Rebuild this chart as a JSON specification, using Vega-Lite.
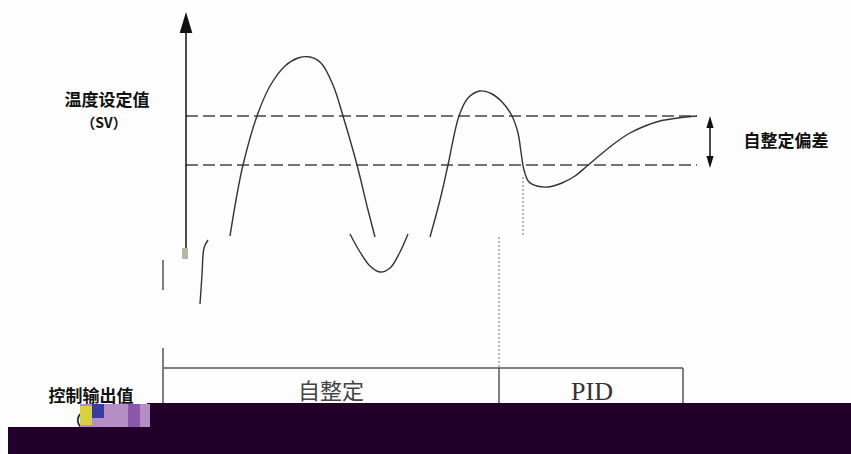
{
  "$schema": "https://vega.github.io/schema/vega-lite/v6.json",
  "width": 851,
  "height": 454,
  "padding": 0,
  "autosize": {"type": "none"},
  "background": "#fdfdfd",
  "config": {"view": {"stroke": null}},
  "encoding": {
    "x": {"type": "quantitative", "scale": {"domain": [0, 851], "nice": false, "zero": false}, "axis": null},
    "y": {"type": "quantitative", "scale": {"domain": [0, 454], "nice": false, "zero": false, "reverse": true}, "axis": null}
  },
  "layer": [
    {
      "data": {"values": [
        {"x": 186, "x2": 697, "y": 116, "y2": 116},
        {"x": 186, "x2": 697, "y": 165, "y2": 165}
      ]},
      "mark": {"type": "rule", "color": "#444", "strokeWidth": 1.3, "strokeDash": [12, 5]},
      "encoding": {"x": {"field": "x"}, "x2": {"field": "x2"}, "y": {"field": "y"}, "y2": {"field": "y2"}}
    },
    {
      "data": {"values": [
        {"x": 499, "x2": 499, "y": 237, "y2": 368},
        {"x": 523, "x2": 523, "y": 177, "y2": 237}
      ]},
      "mark": {"type": "rule", "color": "#777", "strokeWidth": 1, "strokeDash": [2, 2]},
      "encoding": {"x": {"field": "x"}, "x2": {"field": "x2"}, "y": {"field": "y"}, "y2": {"field": "y2"}}
    },
    {
      "data": {"values": [
        {"x": 186, "x2": 186, "y": 30, "y2": 249},
        {"x": 710, "x2": 710, "y": 126, "y2": 157}
      ]},
      "mark": {"type": "rule", "color": "#111", "strokeWidth": 1.5},
      "encoding": {"x": {"field": "x"}, "x2": {"field": "x2"}, "y": {"field": "y"}, "y2": {"field": "y2"}}
    },
    {
      "data": {"values": [
        {"x": 163, "x2": 163, "y": 260, "y2": 290},
        {"x": 163, "x2": 163, "y": 348, "y2": 404},
        {"x": 163, "x2": 683, "y": 368, "y2": 368},
        {"x": 683, "x2": 683, "y": 368, "y2": 404},
        {"x": 499, "x2": 499, "y": 368, "y2": 404}
      ]},
      "mark": {"type": "rule", "color": "#555", "strokeWidth": 1.5},
      "encoding": {"x": {"field": "x"}, "x2": {"field": "x2"}, "y": {"field": "y"}, "y2": {"field": "y2"}}
    },
    {
      "data": {"values": [
        {"seg": "A", "x": 230, "y": 236},
        {"seg": "A", "x": 236, "y": 200},
        {"seg": "A", "x": 243, "y": 165},
        {"seg": "A", "x": 257, "y": 116},
        {"seg": "A", "x": 270, "y": 86},
        {"seg": "A", "x": 285, "y": 66},
        {"seg": "A", "x": 298, "y": 58},
        {"seg": "A", "x": 310, "y": 57},
        {"seg": "A", "x": 321, "y": 63},
        {"seg": "A", "x": 333, "y": 85},
        {"seg": "A", "x": 343, "y": 116},
        {"seg": "A", "x": 357, "y": 165},
        {"seg": "A", "x": 368, "y": 210},
        {"seg": "A", "x": 375, "y": 237},
        {"seg": "B", "x": 430, "y": 237},
        {"seg": "B", "x": 440, "y": 200},
        {"seg": "B", "x": 448, "y": 165},
        {"seg": "B", "x": 459, "y": 116},
        {"seg": "B", "x": 468, "y": 98},
        {"seg": "B", "x": 480, "y": 91},
        {"seg": "B", "x": 492, "y": 94},
        {"seg": "B", "x": 503, "y": 103},
        {"seg": "B", "x": 512, "y": 116},
        {"seg": "B", "x": 518, "y": 133},
        {"seg": "B", "x": 521, "y": 152},
        {"seg": "B", "x": 524, "y": 170},
        {"seg": "B", "x": 529, "y": 182},
        {"seg": "B", "x": 537, "y": 186},
        {"seg": "B", "x": 548, "y": 187},
        {"seg": "B", "x": 562, "y": 183},
        {"seg": "B", "x": 575, "y": 176},
        {"seg": "B", "x": 587, "y": 166},
        {"seg": "B", "x": 600, "y": 155},
        {"seg": "B", "x": 615, "y": 143},
        {"seg": "B", "x": 630, "y": 133},
        {"seg": "B", "x": 645, "y": 126},
        {"seg": "B", "x": 660, "y": 121},
        {"seg": "B", "x": 678, "y": 118},
        {"seg": "B", "x": 697, "y": 116},
        {"seg": "C", "x": 350, "y": 234},
        {"seg": "C", "x": 360, "y": 252},
        {"seg": "C", "x": 370, "y": 266},
        {"seg": "C", "x": 380, "y": 272},
        {"seg": "C", "x": 390, "y": 268},
        {"seg": "C", "x": 400, "y": 252},
        {"seg": "C", "x": 408, "y": 234},
        {"seg": "D", "x": 200, "y": 304},
        {"seg": "D", "x": 202, "y": 275},
        {"seg": "D", "x": 204, "y": 248},
        {"seg": "D", "x": 208, "y": 240}
      ]},
      "mark": {"type": "line", "color": "#333", "strokeWidth": 1.4, "interpolate": "catmull-rom"},
      "encoding": {"x": {"field": "x"}, "y": {"field": "y"}, "detail": {"field": "seg"}}
    },
    {
      "data": {"values": [
        {"x": 186, "y": 22.5, "size": 441, "dir": "up"},
        {"x": 710, "y": 122, "size": 144, "dir": "up"},
        {"x": 710, "y": 162, "size": 144, "dir": "down"}
      ]},
      "mark": {"type": "point", "filled": true, "color": "#111", "opacity": 1},
      "encoding": {
        "x": {"field": "x"},
        "y": {"field": "y"},
        "size": {"field": "size", "type": "quantitative", "scale": null},
        "shape": {"field": "dir", "type": "nominal", "scale": {"domain": ["up", "down"], "range": ["M0,-1L0.6,1L-0.6,1Z", "M0,1L0.6,-1L-0.6,-1Z"]}, "legend": null}
      }
    },
    {
      "data": {"values": [
        {"x": 107, "y": 101, "t": "温度设定值"},
        {"x": 786, "y": 142, "t": "自整定偏差"},
        {"x": 91, "y": 397, "t": "控制输出值"}
      ]},
      "mark": {"type": "text", "font": "Noto Sans CJK SC", "fontWeight": "bold", "fontSize": 17, "color": "#111", "align": "center", "baseline": "middle"},
      "encoding": {"x": {"field": "x"}, "y": {"field": "y"}, "text": {"field": "t"}}
    },
    {
      "data": {"values": [
        {"x": 104, "y": 124, "t": "（SV）"},
        {"x": 92, "y": 421, "t": "（MV）"}
      ]},
      "mark": {"type": "text", "font": "Noto Sans CJK SC", "fontWeight": "bold", "fontSize": 14, "color": "#111", "align": "center", "baseline": "middle"},
      "encoding": {"x": {"field": "x"}, "y": {"field": "y"}, "text": {"field": "t"}}
    },
    {
      "data": {"values": [
        {"x": 331, "y": 392, "t": "自整定"}
      ]},
      "mark": {"type": "text", "font": "Noto Sans CJK SC", "fontWeight": "normal", "fontSize": 22, "color": "#444", "align": "center", "baseline": "middle"},
      "encoding": {"x": {"field": "x"}, "y": {"field": "y"}, "text": {"field": "t"}}
    },
    {
      "data": {"values": [
        {"x": 592, "y": 400, "t": "PID"}
      ]},
      "mark": {"type": "text", "font": "Liberation Serif", "fontSize": 26, "color": "#333", "align": "center", "baseline": "alphabetic"},
      "encoding": {"x": {"field": "x"}, "y": {"field": "y"}, "text": {"field": "t"}}
    },
    {
      "data": {"values": [
        {"x": 147, "x2": 851, "y": 403, "y2": 454, "c": "dark"},
        {"x": 8, "x2": 147, "y": 427, "y2": 454, "c": "dark"},
        {"x": 80, "x2": 150, "y": 404, "y2": 427, "c": "lilac"},
        {"x": 80, "x2": 92, "y": 406, "y2": 425, "c": "yellow"},
        {"x": 92, "x2": 104, "y": 404, "y2": 418, "c": "blue"},
        {"x": 128, "x2": 140, "y": 404, "y2": 427, "c": "violet"},
        {"x": 182, "x2": 188, "y": 248, "y2": 259, "c": "gray"}
      ]},
      "mark": {"type": "rect"},
      "encoding": {
        "x": {"field": "x"}, "x2": {"field": "x2"}, "y": {"field": "y"}, "y2": {"field": "y2"},
        "color": {"field": "c", "type": "nominal", "scale": {"domain": ["dark", "lilac", "yellow", "blue", "violet", "gray"], "range": ["#22002a", "#b48ec4", "#d8d040", "#3a3aa0", "#8a5aa8", "#b8b8a8"]}, "legend": null}
      }
    }
  ]
}
